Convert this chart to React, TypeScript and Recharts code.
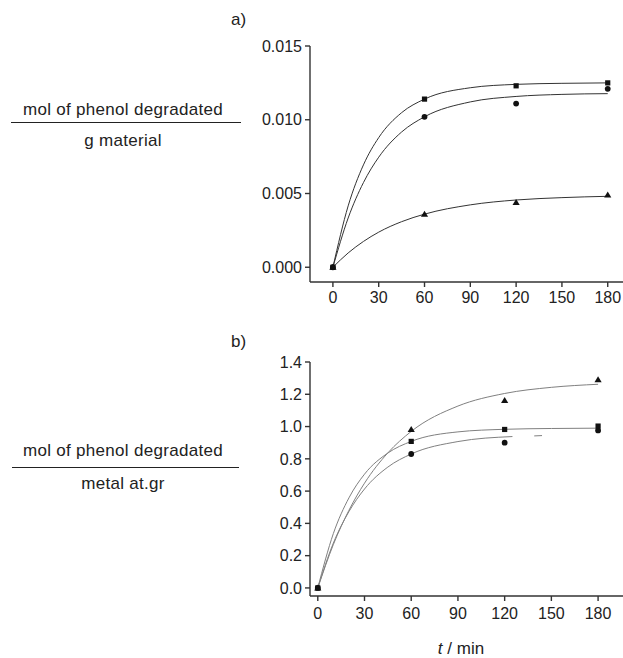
import { ComposedChart, Line, Scatter, XAxis, YAxis } from 'recharts';

// measured time points (min)
const times = [0, 60, 120, 180];
const fitTimes = [0, 10, 20, 30, 45, 60, 90, 120, 150, 180];

// a) mol phenol degradated / g material
const topSquare = [0, 0.0114, 0.0123, 0.0125];
const topCircle = [0, 0.0102, 0.0111, 0.0121];
const topTriangle = [0, 0.0036, 0.0044, 0.0049];
const topSquareFit = [0, 0.00416, 0.00694, 0.00879, 0.01048, 0.0114, 0.01217, 0.0124, 0.01247, 0.0125];
const topCircleFit = [0, 0.00334, 0.00574, 0.00746, 0.00917, 0.0102, 0.01121, 0.01158, 0.01172, 0.01177];
const topTriangleFit = [0, 0.00097, 0.00175, 0.00238, 0.00309, 0.0036, 0.00423, 0.00456, 0.00472, 0.00481];

// b) mol phenol degradated / metal at.gr
const botSquare = [0, 0.908, 0.982, 1.003];
const botCircle = [0, 0.83, 0.9, 0.976];
const botTriangle = [0, 0.982, 1.162, 1.29];
const botSquareFit = [0, 0.337, 0.558, 0.705, 0.836, 0.908, 0.967, 0.983, 0.988, 0.99];
const botTriangleFit = [0, 0.269, 0.481, 0.649, 0.837, 0.97, 1.127, 1.205, 1.243, 1.262];
const botCircleFitTimes = [0, 10, 20, 30, 45, 60, 90, 125];
const botCircleFit = [0, 0.278, 0.473, 0.613, 0.749, 0.83, 0.907, 0.938];
const botCircleTailTimes = [139, 144];
const botCircleTail = [0.942, 0.944];

const xTicks = [0, 30, 60, 90, 120, 150, 180];
const topYTicks = [0, 0.005, 0.01, 0.015];
const botYTicks = [0, 0.2, 0.4, 0.6, 0.8, 1.0, 1.2, 1.4];

const FONT = '"Liberation Sans", Arial, sans-serif';
const AXIS = '#333';

const pts = (ts: number[], vs: number[]) => ts.map((t, i) => ({ t, v: vs[i] }));

const SquareDot = (p: any) => <rect x={p.cx - 2.6} y={p.cy - 2.6} width={5.2} height={5.2} fill="#111" />;
const CircleDot = (p: any) => <circle cx={p.cx} cy={p.cy} r={2.9} fill="#111" />;
const TriangleDot = (p: any) => (
  <polygon points={`${p.cx - 3.6},${p.cy + 2.6} ${p.cx + 3.6},${p.cy + 2.6} ${p.cx},${p.cy - 3.4}`} fill="#111" />
);

const tickStyle = { fontFamily: FONT, fontSize: 16, fill: '#222' };

function Panel({ top, height, marginTop, xHeight, xDomain, yDomain, yTicks, yFmt, tickGap, fits, series, fitColor }: any) {
  return (
    <div style={{ position: 'absolute', left: 0, top }}>
      <ComposedChart width={623} height={height} margin={{ top: marginTop, right: 0, bottom: 0, left: 0 }}>
        <XAxis
          type="number"
          dataKey="t"
          domain={xDomain}
          ticks={xTicks}
          allowDataOverflow
          height={xHeight}
          tickSize={5}
          tickMargin={tickGap}
          stroke={AXIS}
          strokeWidth={1.4}
          tick={tickStyle}
          interval={0}
        />
        <YAxis
          type="number"
          dataKey="v"
          domain={yDomain}
          ticks={yTicks}
          allowDataOverflow
          width={310}
          tickSize={5}
          tickMargin={3}
          stroke={AXIS}
          strokeWidth={1.4}
          tick={tickStyle}
          tickFormatter={yFmt}
          interval={0}
        />
        {fits.map((d: any, i: number) => (
          <Line
            key={`fit-${i}`}
            data={d}
            dataKey="v"
            type="monotone"
            stroke={fitColor}
            strokeWidth={1}
            dot={false}
            activeDot={false}
            isAnimationActive={false}
          />
        ))}
        {series.map((s: any, i: number) => (
          <Scatter key={`pts-${i}`} data={s.data} shape={s.shape} isAnimationActive={false} />
        ))}
      </ComposedChart>
    </div>
  );
}

const labelText = { position: 'absolute' as const, fontFamily: FONT, fontSize: 17, lineHeight: '17px', color: '#222', whiteSpace: 'nowrap' as const };

function Fraction({ numTop, lineTop, denTop, num, den, lineLeft, lineWidth }: any) {
  return (
    <>
      <div style={{ ...labelText, left: 0, width: 246, top: numTop, textAlign: 'center', letterSpacing: 0.3 }}>{num}</div>
      <div style={{ position: 'absolute', left: lineLeft, top: lineTop, width: lineWidth, height: 1.4, background: '#222' }} />
      <div style={{ ...labelText, left: 0, width: 246, top: denTop, textAlign: 'center', letterSpacing: 0.3 }}>{den}</div>
    </>
  );
}

export default function App() {
  const topFits = [pts(fitTimes, topSquareFit), pts(fitTimes, topCircleFit), pts(fitTimes, topTriangleFit)];
  const topSeries = [
    { data: pts(times, topTriangle), shape: TriangleDot },
    { data: pts(times, topCircle), shape: CircleDot },
    { data: pts(times, topSquare), shape: SquareDot },
  ];
  const botFits = [
    pts(fitTimes, botSquareFit),
    pts(fitTimes, botTriangleFit),
    pts(botCircleFitTimes, botCircleFit),
    pts(botCircleTailTimes, botCircleTail),
  ];
  const botSeries = [
    { data: pts(times, botTriangle), shape: TriangleDot },
    { data: pts(times, botCircle), shape: CircleDot },
    { data: pts(times, botSquare), shape: SquareDot },
  ];

  return (
    <div style={{ position: 'fixed', left: 0, top: 0, width: 623, height: 658, background: '#fff', overflow: 'hidden' }}>
      <div style={{ ...labelText, left: 231, top: 10.6 }}>a)</div>
      <div style={{ ...labelText, left: 231, top: 332.6 }}>b)</div>

      <Fraction
        numTop={100.6}
        lineTop={122}
        denTop={131.6}
        num="mol of phenol degradated"
        den="g material"
        lineLeft={11}
        lineWidth={230}
      />
      <Fraction
        numTop={442.3}
        lineTop={466.6}
        denTop={474.6}
        num="mol of phenol degradated"
        den="metal at.gr"
        lineLeft={12}
        lineWidth={227}
      />

      <Panel
        top={0}
        height={320}
        marginTop={46}
        xHeight={38}
        xDomain={[-15, 190]}
        yDomain={[-0.001, 0.015]}
        yTicks={topYTicks}
        yFmt={(v: number) => v.toFixed(3)}
        tickGap={5}
        fits={topFits}
        series={topSeries}
        fitColor="#333"
      />
      <Panel
        top={320}
        height={338}
        marginTop={42}
        xHeight={62}
        xDomain={[-5, 196]}
        yDomain={[-0.05, 1.4]}
        yTicks={botYTicks}
        yFmt={(v: number) => v.toFixed(1)}
        tickGap={7}
        fits={botFits}
        series={botSeries}
        fitColor="#808080"
      />

      <div style={{ ...labelText, left: 411, width: 100, top: 639.6, textAlign: 'center' }}>
        <i>t</i> / min
      </div>
    </div>
  );
}
